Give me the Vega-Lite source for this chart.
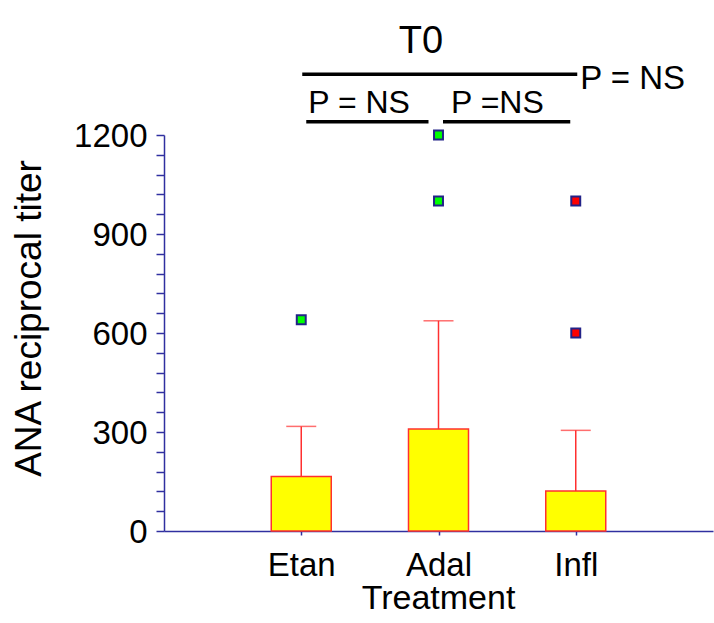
{
  "$schema": "https://vega.github.io/schema/vega-lite/v6.json",
  "width": 549,
  "height": 396,
  "autosize": {"type": "none"},
  "padding": {"left": 164, "top": 135, "right": 1, "bottom": 92},
  "background": "white",
  "title": {"text": "(a)", "anchor": "start", "frame": "group", "fontSize": 36, "fontWeight": "normal", "font": "Liberation Sans", "color": "black", "dx": -132, "offset": 130, "baseline": "alphabetic"},
  "config": {"view": {"stroke": null}, "font": "Liberation Sans"},
  "datasets": {
    "bars": [
      {"treatment": "Etan", "value": 165},
      {"treatment": "Adal", "value": 309},
      {"treatment": "Infl", "value": 121}
    ],
    "errs": [
      {"treatment": "Etan", "value": 317, "mean": 165},
      {"treatment": "Adal", "value": 637, "mean": 309},
      {"treatment": "Infl", "value": 305, "mean": 121}
    ],
    "outliers": [
      {"treatment": "Etan", "value": 640},
      {"treatment": "Adal", "value": 1200},
      {"treatment": "Adal", "value": 1000},
      {"treatment": "Infl", "value": 1000},
      {"treatment": "Infl", "value": 600}
    ],
    "lines": [
      {"line": "top", "treatment": "Etan", "treatment2": "Infl", "value": 1384},
      {"line": "left", "treatment": "Etan", "treatment2": "Adal", "value": 1240},
      {"line": "right", "treatment": "Adal", "treatment2": "Infl", "value": 1240}
    ],
    "labels": [
      {"id": "t0", "label": "T0", "treatment": "Adal", "value": 1448},
      {"id": "all", "label": "P = NS", "treatment": "Infl", "value": 1338},
      {"id": "ea", "label": "P = NS", "treatment": "Etan", "value": 1267},
      {"id": "ai", "label": "P =NS", "treatment": "Adal", "value": 1267}
    ]
  },
  "encoding": {
    "x": {
      "field": "treatment", "type": "nominal",
      "scale": {"type": "point", "padding": 1, "domain": ["Etan", "Adal", "Infl"]},
      "axis": {"title": "Treatment", "labelAngle": 0, "labelFontSize": 33, "labelColor": "black", "labelBaseline": "alphabetic", "labelPadding": 40, "labelOverlap": false, "tickSize": 4, "tickColor": "#3030a0", "tickWidth": 1.5, "domainColor": "#3030a0", "domainWidth": 1.5, "titleFontSize": 34, "titleFontWeight": "normal", "titleColor": "black", "titleBaseline": "alphabetic", "titleX": 274, "titleY": 77, "titleAlign": "center", "grid": false}
    },
    "y": {
      "field": "value", "type": "quantitative",
      "scale": {"domain": [0, 1200], "nice": false},
      "axis": {"title": "ANA reciprocal titer", "values": [0, 60, 120, 180, 240, 300, 360, 420, 480, 540, 600, 660, 720, 780, 840, 900, 960, 1020, 1080, 1140, 1200], "format": "d", "labelExpr": "datum.value % 300 == 0 ? datum.label : ''", "labelOverlap": false, "grid": false, "labelFontSize": 33, "labelColor": "black", "labelPadding": 9, "labelBaseline": "middle", "labelOffset": 1, "tickSize": 8, "tickColor": "#3030a0", "tickWidth": 1.5, "domainColor": "#3030a0", "domainWidth": 1.5, "titleFontSize": 37, "titleFontWeight": "normal", "titleColor": "black", "titleX": -124, "titleY": 183, "titleAngle": -90, "titleAlign": "center", "titleBaseline": "alphabetic"}
    }
  },
  "layer": [
    {"data": {"name": "bars"}, "mark": {"type": "bar", "size": 60, "fill": "#ffff00", "stroke": "#ff3030", "strokeWidth": 1.5}},
    {"data": {"name": "errs"}, "mark": {"type": "rule", "color": "#ff3030", "strokeWidth": 1.5}, "encoding": {"y2": {"field": "mean"}}},
    {"data": {"name": "errs"}, "mark": {"type": "tick", "orient": "horizontal", "size": 30, "thickness": 1.5, "color": "#ff3030"}},
    {"data": {"name": "outliers"}, "mark": {"type": "point", "shape": "square", "filled": true, "size": 80, "stroke": "#222288", "strokeWidth": 2, "opacity": 1},
      "encoding": {"fill": {"field": "treatment", "type": "nominal", "scale": {"domain": ["Etan", "Adal", "Infl"], "range": ["#00ff00", "#00ff00", "#ff0000"]}, "legend": null}}},
    {"data": {"name": "lines"}, "transform": [{"filter": "datum.line == 'top'"}], "mark": {"type": "rule", "color": "black", "strokeWidth": 3.5, "xOffset": 1, "x2Offset": 1.5}, "encoding": {"x2": {"field": "treatment2"}}},
    {"data": {"name": "lines"}, "transform": [{"filter": "datum.line == 'left'"}], "mark": {"type": "rule", "color": "black", "strokeWidth": 3.5, "xOffset": 5, "x2Offset": -10}, "encoding": {"x2": {"field": "treatment2"}}},
    {"data": {"name": "lines"}, "transform": [{"filter": "datum.line == 'right'"}], "mark": {"type": "rule", "color": "black", "strokeWidth": 3.5, "xOffset": 4.5, "x2Offset": -5.5}, "encoding": {"x2": {"field": "treatment2"}}},
    {"data": {"name": "labels"}, "transform": [{"filter": "datum.id == 't0'"}], "mark": {"type": "text", "fontSize": 38, "align": "center", "baseline": "alphabetic", "dx": -17.5, "color": "black"}, "encoding": {"text": {"field": "label"}}},
    {"data": {"name": "labels"}, "transform": [{"filter": "datum.id == 'all'"}], "mark": {"type": "text", "fontSize": 33, "align": "left", "baseline": "alphabetic", "dx": 4.5, "color": "black"}, "encoding": {"text": {"field": "label"}}},
    {"data": {"name": "labels"}, "transform": [{"filter": "datum.id == 'ea'"}], "mark": {"type": "text", "fontSize": 32, "align": "left", "baseline": "alphabetic", "dx": 7, "color": "black"}, "encoding": {"text": {"field": "label"}}},
    {"data": {"name": "labels"}, "transform": [{"filter": "datum.id == 'ai'"}], "mark": {"type": "text", "fontSize": 32, "align": "left", "baseline": "alphabetic", "dx": 12.5, "color": "black"}, "encoding": {"text": {"field": "label"}}}
  ]
}
